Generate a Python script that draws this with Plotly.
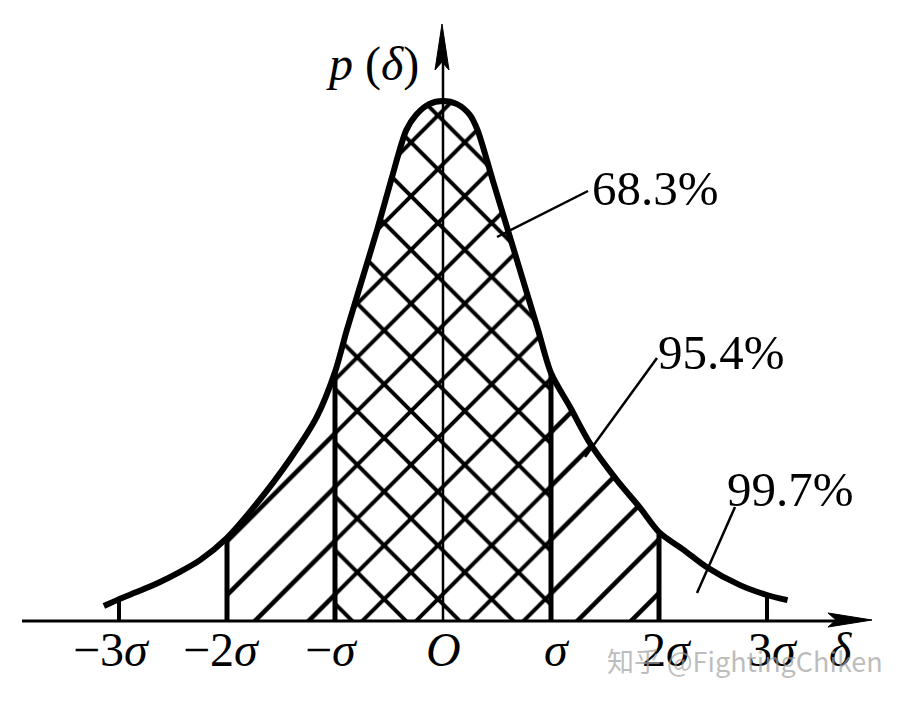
import plotly.graph_objects as go

# ---------------- data ----------------
# curve: x in units of sigma, y relative density (peak = 1)
curve_x = [-3.14, -3.0, -2.81, -2.62, -2.44, -2.25, -2.0, -1.72, -1.42, -1.17, -1.0,
           -0.89, -0.75, -0.61, -0.48, -0.34, -0.25, -0.13, 0.0, 0.13, 0.25, 0.32,
           0.46, 0.60, 0.74, 0.88, 1.0, 1.18, 1.36, 1.61, 1.82, 2.0, 2.24, 2.44,
           2.75, 3.0, 3.19]
curve_y = [0.029, 0.042, 0.058, 0.075, 0.094, 0.117, 0.160, 0.227, 0.310, 0.392, 0.479,
           0.560, 0.656, 0.752, 0.848, 0.944, 0.973, 0.994, 1.0, 0.994, 0.973, 0.944,
           0.848, 0.752, 0.656, 0.560, 0.477, 0.410, 0.342, 0.271, 0.219, 0.171, 0.135, 0.104,
           0.069, 0.050, 0.040]

tick_vals = [-3, -2, -1, 0, 1, 2, 3]
tick_text = ["−3<i>σ</i>", "−2<i>σ</i>", "−<i>σ</i>", "<i>O</i>", "<i>σ</i>", "2<i>σ</i>", "3<i>σ</i>"]

pct_labels = ["68.3%", "95.4%", "99.7%"]

# ---------------- helpers for layout placement (screen px -> data) ----------------
OFF = 8  # page body margin


def X(px):
    return (px - 443) / 108.0


def Y(py):
    return (621 - py) / 520.0


def yat(v):
    return curve_y[curve_x.index(v)]


def subset(lo, hi):
    xs = [x for x in curve_x if lo <= x <= hi]
    ys = [curve_y[curve_x.index(x)] for x in xs]
    return xs, ys


SERIF = "Liberation Serif, Times New Roman, serif"

fig = go.Figure()

# hatched regions
for lo, hi, shape, sol in [(-1.0, 1.0, "x", 0.2), (-2.0, -1.0, "/", 0.12), (1.0, 2.0, "/", 0.12)]:
    xs, ys = subset(lo, hi)
    fig.add_trace(go.Scatter(
        x=xs, y=ys, mode="lines", fill="tozeroy",
        line=dict(width=0, color="black", shape="spline", smoothing=0.8),
        fillcolor="white",
        fillpattern=dict(shape=shape, size=38, solidity=sol,
                         fgcolor="black", bgcolor="white", fillmode="replace"),
        hoverinfo="skip", showlegend=False))

# vertical boundary lines at ±σ, ±2σ (thick) and ±3σ (ticks)
vx, vy = [], []
for v in [-2.0, -1.0, 1.0, 2.0]:
    vx += [v, v, None]
    vy += [0, yat(v), None]
fig.add_trace(go.Scatter(x=vx, y=vy, mode="lines",
                         line=dict(color="black", width=5),
                         hoverinfo="skip", showlegend=False))
tx, ty = [], []
for v in [-3.0, 3.0]:
    tx += [v, v, None]
    ty += [0, yat(v), None]
fig.add_trace(go.Scatter(x=tx, y=ty, mode="lines",
                         line=dict(color="black", width=4),
                         hoverinfo="skip", showlegend=False))

# the curve
fig.add_trace(go.Scatter(x=curve_x, y=curve_y, mode="lines",
                         line=dict(color="black", width=6, shape="spline", smoothing=0.8),
                         hoverinfo="skip", showlegend=False))

shapes = []
# horizontal axis
shapes.append(dict(type="line", xref="x", yref="y", x0=X(22), x1=X(850), y0=0, y1=0,
                   line=dict(color="black", width=3)))
shapes.append(dict(type="path", xref="x", yref="y",
                   path=f"M {X(872)} {Y(620)} L {X(828)} {Y(613)} L {X(836)} {Y(620)} L {X(828)} {Y(627)} Z",
                   fillcolor="black", line=dict(color="black", width=1)))
# vertical axis
shapes.append(dict(type="line", xref="x", yref="y", x0=0, x1=0, y0=0, y1=Y(60),
                   line=dict(color="black", width=2.5)))
shapes.append(dict(type="path", xref="x", yref="y",
                   path=f"M {X(442)} {Y(24)} L {X(435)} {Y(70)} L {X(442)} {Y(62)} L {X(449)} {Y(70)} Z",
                   fillcolor="black", line=dict(color="black", width=1)))
# leader lines
for (x0, y0, x1, y1) in [(497, 237, 588, 191), (585, 457, 657, 358), (697, 593, 735, 507)]:
    shapes.append(dict(type="line", xref="x", yref="y", x0=X(x0), y0=Y(y0), x1=X(x1), y1=Y(y1),
                       line=dict(color="black", width=2.5)))

annotations = []
# tick labels
label_shift = [-8, -6, -4, 0, 6, 8, 6]
for v, t, s in zip(tick_vals, tick_text, label_shift):
    annotations.append(dict(x=v, y=Y(649), xref="x", yref="y", text=t, showarrow=False,
                            xanchor="center", yanchor="middle", xshift=s,
                            font=dict(family=SERIF, size=48, color="black")))
# delta label on axis
annotations.append(dict(x=X(840), y=Y(649), xref="x", yref="y", text="<i>δ</i>",
                        showarrow=False, xanchor="center", yanchor="middle",
                        font=dict(family=SERIF, size=48, color="black")))
# p(delta)
annotations.append(dict(x=X(372), y=Y(64), xref="x", yref="y", text="<i>p</i> (<i>δ</i>)",
                        showarrow=False, xanchor="center", yanchor="middle",
                        font=dict(family=SERIF, size=48, color="black")))
# percentage labels
for t, (cx, cy) in zip(pct_labels, [(655, 188), (721, 352), (790, 489)]):
    annotations.append(dict(x=X(cx), y=Y(cy), xref="x", yref="y", text=t, showarrow=False,
                            xanchor="center", yanchor="middle",
                            font=dict(family=SERIF, size=49, color="black")))
# watermark
annotations.append(dict(x=X(745), y=Y(660), xref="x", yref="y",
                        text="知乎 @FightingChiken", showarrow=False,
                        xanchor="center", yanchor="middle",
                        font=dict(family="Noto Sans CJK SC", size=27, color="rgba(160,160,160,0.7)")))

fig.update_layout(
    width=906 - OFF, height=701 - OFF,
    margin=dict(l=0, r=0, t=0, b=0),
    paper_bgcolor="white", plot_bgcolor="white",
    xaxis=dict(range=[X(OFF), X(906)], visible=False, fixedrange=True),
    yaxis=dict(range=[Y(701), Y(OFF)], visible=False, fixedrange=True),
    shapes=shapes, annotations=annotations,
    showlegend=False,
)

fig.write_html("out.html")
